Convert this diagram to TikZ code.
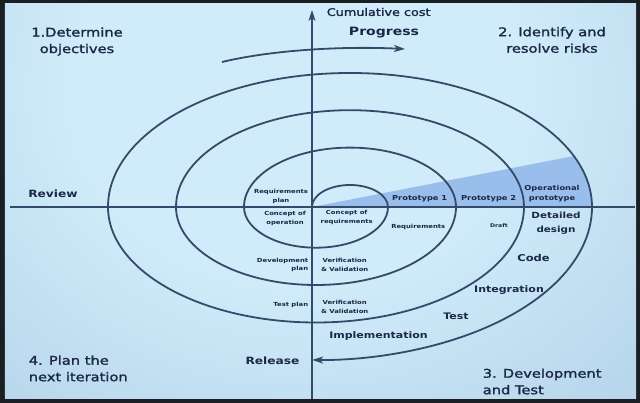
\documentclass[tikz,border=0pt]{standalone}
\usepackage{fontspec}
\setmainfont{DejaVu Sans}[FakeStretch=1.22]
\newfontfamily\semibold{DejaVu Sans}[FakeStretch=1.22, FakeBold=1.6]
\usetikzlibrary{arrows.meta}
\definecolor{cframe}{HTML}{1B1F24}
\definecolor{cbgin}{HTML}{D0ECFA}
\definecolor{cbgout}{HTML}{7A9DC6}
\definecolor{cline}{HTML}{35496A}
\definecolor{cwedge}{HTML}{9ABEEB}
\definecolor{ctext}{HTML}{1B2746}
\pgfdeclareradialshading{bgglow}{\pgfpoint{0bp}{0bp}}{color(0bp)=(cbgin); color(10bp)=(cbgin); color(50bp)=(cbgout)}
\tikzset{
  every picture/.style={line width=1.6pt},
  quad/.style={text=ctext, font=\semibold\fontsize{12}{16.5}\selectfont, align=center, inner sep=0pt},
  phase/.style={text=ctext, font=\bfseries\fontsize{9}{11}\selectfont, align=center, inner sep=0pt},
  tiny/.style={text=ctext, font=\bfseries\fontsize{5.6}{8.5}\selectfont, align=center, inner sep=0pt},
  axis/.style={draw=cline, line width=1.5pt},
  spiral/.style={draw=cline, line width=1.8pt},
  tip/.style={-{Stealth[length=11pt, width=7pt, inset=3pt]}},
}
\begin{document}
\begin{tikzpicture}[x=1pt, y=1pt]
  % frame and background
  \useasboundingbox (-312,-196) rectangle (328,207);
  \fill[cframe] (-312,-196) rectangle (328,207);
  \begin{scope}
    \clip (-307,-192) rectangle (324,203);
    \fill[shading=bgglow] (-572,-363) rectangle (548,597);
    % prototype wedge
    \clip (0,0) -- (300,58.4) -- (300,0) -- cycle;
    \fill[cwedge] (38,0) ellipse[x radius=242pt, y radius=134pt];
  \end{scope}
  % axes
  \coordinate (o) at (0,0);
  \coordinate (west) at (-302,0);
  \coordinate (east) at (323,0);
  \coordinate (south) at (0,-192);
  \coordinate (north) at (0,197);
  \draw[axis] (west) -- (east);
  \draw[axis, tip] (south) -- (north);
  % the spiral: upper halves centred at x=38, lower halves at x=4
  \draw[spiral, tip] (o)
    arc[start angle=180, end angle=0, x radius=38pt, y radius=22pt]
    arc[start angle=0, end angle=-180, x radius=72pt, y radius=40.7pt]
    arc[start angle=180, end angle=0, x radius=106pt, y radius=59.4pt]
    arc[start angle=0, end angle=-180, x radius=140pt, y radius=78pt]
    arc[start angle=180, end angle=0, x radius=174pt, y radius=96.8pt]
    arc[start angle=0, end angle=-180, x radius=208pt, y radius=115.5pt]
    arc[start angle=180, end angle=0, x radius=242pt, y radius=134pt]
    arc[start angle=0, end angle=-90.8, x radius=276pt, y radius=153pt];
  % progress arrow
  \coordinate (pstart) at (-90,145);
  \coordinate (pend) at (93,158);
  \draw[spiral, tip] (pstart) .. controls (-40,157) and (30,161) .. (pend);
  % quadrant titles
  \node[quad] (q1) at (-235,165.5) {1.Determine\\objectives};
  \node[quad] (q2) at (240,167) {2. Identify and\\resolve risks};
  \node[quad, anchor=west, align=left] (q3) at (170,-174.5) {3. Development\\and Test};
  \node[quad, anchor=west, align=left] (q4) at (-284,-161.5) {4. Plan the\\next iteration};
  \node[quad, font=\semibold\fontsize{10.5}{12}\selectfont, anchor=west] (cost) at (14,195) {Cumulative cost};
  % phase labels
  \node[phase, font=\bfseries\fontsize{11.5}{13}\selectfont] (progress) at (72,174) {Progress};
  \node[phase, font=\bfseries\fontsize{10}{12}\selectfont] (review) at (-259,13) {Review};
  \node[phase, font=\bfseries\fontsize{10}{12}\selectfont] (release) at (-39.5,-154) {Release};
  \node[phase] (impl) at (66.5,-129) {Implementation};
  \node[phase] (test) at (144,-109) {Test};
  \node[phase] (integ) at (197,-83) {Integration};
  \node[phase, font=\bfseries\fontsize{9.4}{11}\selectfont] (code) at (221.5,-51) {Code};
  \node[phase, font=\bfseries\fontsize{8.5}{14}\selectfont] (design) at (244,-16) {Detailed\\design};
  % small labels
  \node[tiny, font=\bfseries\fontsize{6.8}{10}\selectfont] (opproto) at (240,13.7) {Operational\\prototype};
  \node[tiny, font=\bfseries\fontsize{6.8}{10}\selectfont] (proto2) at (176.7,8.7) {Prototype 2};
  \node[tiny, font=\bfseries\fontsize{6.8}{10}\selectfont] (proto1) at (107.7,8.7) {Prototype 1};
  \node[tiny] (req) at (106.3,-20.3) {Requirements};
  \node[tiny, font=\bfseries\fontsize{5}{7}\selectfont] (draft) at (187,-19) {Draft};
  \node[tiny] (reqplan) at (-31,10.7) {Requirements\\plan};
  \node[tiny] (conop) at (-27,-11.5) {Concept of\\operation};
  \node[tiny] (conreq) at (34.7,-10.5) {Concept of\\requirements};
  \node[tiny, anchor=east, align=right] (devplan) at (-3,-58) {Development\\plan};
  \node[tiny] (vv1) at (32.7,-58) {Verification\\\& Validation};
  \node[tiny, anchor=east] (testplan) at (-3,-98) {Test plan};
  \node[tiny] (vv2) at (32.7,-100) {Verification\\\& Validation};
\end{tikzpicture}
\end{document}
